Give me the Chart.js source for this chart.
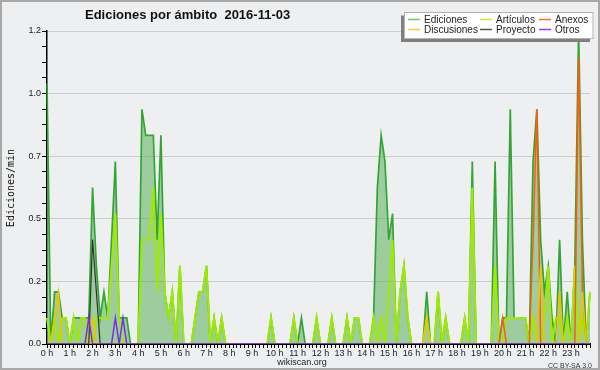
<!DOCTYPE html>
<html lang="es">
<head>
<meta charset="utf-8">
<title>Ediciones por ámbito 2016-11-03</title>
<script src="https://cdn.jsdelivr.net/npm/chart.js@4"></script>
<style>
  html, body { margin: 0; padding: 0; background: #eeeff1; }
  #grafico { display: block; }
</style>
</head>
<body>
<canvas id="grafico" width="600" height="370"></canvas>
<script>
// Ediciones por minuto, en franjas de 10 minutos (6 por hora)
const horas = ['0 h','1 h','2 h','3 h','4 h','5 h','6 h','7 h','8 h','9 h','10 h','11 h',
  '12 h','13 h','14 h','15 h','16 h','17 h','18 h','19 h','20 h','21 h','22 h','23 h'];

const franjas = [];
for (let h = 0; h < 24; h++) {
  for (let m = 0; m < 60; m += 10) franjas.push(h + ':' + String(m).padStart(2, '0'));
}

const valoresY = [0, 0.24, 0.48, 0.72, 0.96, 1.2];
const etiquetasY = ['0.0', '0.2', '0.5', '0.7', '1.0', '1.2'];

const ediciones = [
  1.0, 0.0, 0.2, 0.2, 0.1, 0.1,   // 0 h
  0.0, 0.1, 0.1, 0.1, 0.1, 0.1,   // 1 h
  0.6, 0.3, 0.1, 0.2, 0.1, 0.4,   // 2 h
  0.7, 0.1, 0.1, 0.1, 0.0, 0.0,   // 3 h
  0.0, 0.9, 0.8, 0.8, 0.8, 0.4,   // 4 h
  0.8, 0.2, 0.1, 0.2, 0.0, 0.3,   // 5 h
  0.0, 0.0, 0.0, 0.1, 0.2, 0.2,   // 6 h
  0.3, 0.0, 0.1, 0.0, 0.1, 0.0,   // 7 h
  0.0, 0.0, 0.0, 0.0, 0.0, 0.0,   // 8 h
  0.0, 0.0, 0.0, 0.0, 0.0, 0.1,   // 9 h
  0.0, 0.0, 0.0, 0.0, 0.0, 0.1,   // 10 h
  0.0, 0.1, 0.0, 0.0, 0.0, 0.1,   // 11 h
  0.0, 0.0, 0.0, 0.1, 0.0, 0.0,   // 12 h
  0.0, 0.1, 0.0, 0.1, 0.1, 0.0,   // 13 h
  0.0, 0.0, 0.1, 0.6, 0.8, 0.7,   // 14 h
  0.4, 0.5, 0.0, 0.2, 0.3, 0.1,   // 15 h
  0.0, 0.0, 0.0, 0.0, 0.2, 0.0,   // 16 h
  0.0, 0.2, 0.0, 0.1, 0.0, 0.0,   // 17 h
  0.0, 0.0, 0.1, 0.0, 0.7, 0.0,   // 18 h
  0.0, 0.0, 0.0, 0.0, 0.7, 0.0,   // 19 h
  0.1, 0.1, 0.9, 0.1, 0.1, 0.1,   // 20 h
  0.1, 0.0, 0.7, 0.9, 0.4, 0.2,   // 21 h
  0.3, 0.1, 0.0, 0.4, 0.0, 0.2,   // 22 h
  0.0, 0.3, 1.2, 0.4, 0.0, 0.2    // 23 h
];

const articulos = [
  0.1, 0.0, 0.1, 0.0, 0.1, 0.1,
  0.0, 0.1, 0.0, 0.1, 0.1, 0.0,
  0.0, 0.1, 0.1, 0.1, 0.1, 0.3,
  0.5, 0.1, 0.0, 0.0, 0.0, 0.0,
  0.0, 0.4, 0.4, 0.4, 0.6, 0.2,
  0.5, 0.2, 0.1, 0.2, 0.0, 0.3,
  0.0, 0.0, 0.0, 0.1, 0.2, 0.2,
  0.3, 0.0, 0.1, 0.0, 0.1, 0.0,
  0.0, 0.0, 0.0, 0.0, 0.0, 0.0,
  0.0, 0.0, 0.0, 0.0, 0.0, 0.1,
  0.0, 0.0, 0.0, 0.0, 0.0, 0.1,
  0.0, 0.0, 0.0, 0.0, 0.0, 0.1,
  0.0, 0.0, 0.0, 0.1, 0.0, 0.0,
  0.0, 0.1, 0.0, 0.1, 0.1, 0.0,
  0.0, 0.0, 0.1, 0.0, 0.1, 0.0,
  0.2, 0.4, 0.0, 0.2, 0.3, 0.1,
  0.0, 0.0, 0.0, 0.0, 0.1, 0.0,
  0.0, 0.2, 0.0, 0.1, 0.0, 0.0,
  0.0, 0.0, 0.1, 0.0, 0.6, 0.0,
  0.0, 0.0, 0.0, 0.0, 0.3, 0.0,
  0.0, 0.1, 0.1, 0.1, 0.1, 0.1,
  0.1, 0.0, 0.1, 0.0, 0.0, 0.1,
  0.3, 0.0, 0.1, 0.1, 0.0, 0.1,
  0.0, 0.3, 0.0, 0.1, 0.0, 0.2
];

const anexos = [
  0, 0, 0, 0, 0, 0,   0, 0, 0, 0, 0, 0,   0, 0, 0, 0, 0, 0,   0, 0, 0, 0, 0, 0,
  0, 0, 0, 0, 0, 0,   0, 0, 0, 0, 0, 0,   0, 0, 0, 0, 0, 0,   0, 0, 0, 0, 0, 0,
  0, 0, 0, 0, 0, 0,   0, 0, 0, 0, 0, 0,   0, 0, 0, 0, 0, 0,   0, 0, 0, 0, 0, 0,
  0, 0, 0, 0, 0, 0,   0, 0, 0, 0, 0, 0,   0, 0, 0, 0, 0, 0,   0, 0, 0, 0, 0, 0,
  0, 0, 0, 0, 0, 0,   0, 0, 0, 0, 0, 0,   0, 0, 0, 0, 0, 0,   0, 0, 0, 0, 0, 0,
  0.1, 0, 0, 0, 0, 0, 0, 0, 0.4, 0.9, 0, 0, 0, 0, 0, 0, 0, 0,   0, 0, 1.1, 0.2, 0, 0
];

const discusiones = [
  0, 0, 0.1, 0.2, 0, 0, 0, 0, 0, 0, 0, 0,   0.1, 0, 0, 0, 0, 0,   0, 0, 0, 0, 0, 0,
  0, 0, 0, 0, 0, 0,   0, 0, 0, 0, 0, 0,   0, 0, 0, 0, 0, 0,   0, 0, 0, 0, 0, 0,
  0, 0, 0, 0, 0, 0,   0, 0, 0, 0, 0, 0,   0, 0, 0, 0, 0, 0,   0, 0, 0, 0, 0, 0,
  0, 0, 0, 0, 0, 0,   0, 0, 0, 0, 0, 0,   0, 0, 0, 0, 0, 0,   0, 0, 0, 0, 0, 0,
  0, 0, 0, 0, 0.1, 0, 0, 0, 0, 0, 0, 0,   0, 0, 0, 0, 0, 0,   0, 0, 0, 0, 0, 0,
  0, 0, 0, 0, 0, 0,   0, 0, 0, 0, 0.3, 0, 0, 0, 0, 0.2, 0, 0, 0, 0, 0, 0.2, 0, 0
];

const proyecto = [
  0, 0, 0, 0, 0, 0,   0, 0, 0, 0, 0, 0,   0.4, 0.2, 0, 0, 0, 0,   0, 0, 0, 0, 0, 0,
  0, 0, 0, 0, 0, 0,   0, 0, 0, 0, 0, 0,   0, 0, 0, 0, 0, 0,   0, 0, 0, 0, 0, 0,
  0, 0, 0, 0, 0, 0,   0, 0, 0, 0, 0, 0,   0, 0, 0, 0, 0, 0,   0, 0, 0, 0, 0, 0,
  0, 0, 0, 0, 0, 0,   0, 0, 0, 0, 0, 0,   0, 0, 0, 0, 0, 0,   0, 0, 0, 0, 0, 0,
  0, 0, 0, 0, 0, 0,   0, 0, 0, 0, 0, 0,   0, 0, 0, 0, 0, 0,   0, 0, 0, 0, 0, 0,
  0, 0, 0, 0, 0, 0,   0, 0, 0, 0, 0, 0,   0, 0, 0, 0, 0, 0,   0, 0, 0, 0, 0, 0
];

const otros = [
  0, 0, 0, 0, 0, 0,   0, 0, 0, 0, 0, 0.1, 0, 0, 0, 0, 0, 0,   0.1, 0, 0.1, 0, 0, 0,
  0, 0, 0, 0, 0, 0,   0, 0, 0, 0, 0, 0,   0, 0, 0, 0, 0, 0,   0, 0, 0, 0, 0, 0,
  0, 0, 0, 0, 0, 0,   0, 0, 0, 0, 0, 0,   0, 0, 0, 0, 0, 0,   0, 0, 0, 0, 0, 0,
  0, 0, 0, 0, 0, 0,   0, 0, 0, 0, 0, 0,   0, 0, 0, 0, 0, 0,   0, 0, 0, 0, 0, 0,
  0, 0, 0, 0, 0, 0,   0, 0, 0, 0, 0, 0,   0, 0, 0, 0, 0, 0,   0, 0, 0, 0, 0, 0,
  0, 0, 0, 0, 0, 0,   0, 0, 0, 0, 0, 0,   0, 0, 0, 0, 0, 0,   0, 0, 0, 0, 0, 0
];

const nombres = ['Ediciones', 'Artículos', 'Anexos', 'Discusiones', 'Proyecto', 'Otros'];
const colores = ['#34a534', '#a0ea00', '#ff5a10', '#f2c200', '#333333', '#7a2ee6'];
const coloresLeyenda = ['#6cc86c', '#c4ec3c', '#ff6a30', '#ffc830', '#505050', '#9440f0'];

// fondo, titulo, leyenda y pie dibujados a mano
const decoracion = {
  id: 'decoracion',
  beforeDraw(chart) {
    const ctx = chart.ctx;
    ctx.save();
    ctx.fillStyle = '#eeeff1';
    ctx.fillRect(0, 0, chart.width, chart.height);
    ctx.restore();
  },
  afterDraw(chart) {
    const ctx = chart.ctx;
    ctx.save();

    // titulo
    ctx.fillStyle = '#111';
    ctx.font = 'bold 13px "Liberation Sans"';
    ctx.textAlign = 'left';
    ctx.textBaseline = 'alphabetic';
    ctx.fillText('Ediciones por ámbito  2016-11-03', 85, 18.5);

    // titulo eje y
    ctx.save();
    ctx.translate(11, 188);
    ctx.rotate(-Math.PI / 2);
    ctx.font = '10px "DejaVu Sans Mono"';
    ctx.textAlign = 'center';
    ctx.textBaseline = 'middle';
    ctx.fillStyle = '#111';
    ctx.fillText('Ediciones/min', 0, 0);
    ctx.restore();

    // leyenda
    ctx.fillStyle = '#808080';
    ctx.fillRect(401, 15.5, 189, 26.5);
    ctx.fillStyle = '#ffffff';
    ctx.fillRect(404.5, 12, 189, 26.5);
    ctx.strokeStyle = '#b4b4b4';
    ctx.lineWidth = 1;
    ctx.strokeRect(404.5, 12.5, 188.5, 26);

    const colX = [408, 480, 539];
    const filaY = [19.5, 29.5];
    ctx.font = '10px "Liberation Sans"';
    ctx.textBaseline = 'middle';
    ctx.textAlign = 'left';
    nombres.forEach((nombre, i) => {
      const x = colX[i % 3];
      const y = filaY[Math.floor(i / 3)];
      ctx.strokeStyle = coloresLeyenda[i];
      ctx.lineWidth = 1.5;
      ctx.beginPath();
      ctx.moveTo(x, y);
      ctx.lineTo(x + 12, y);
      ctx.stroke();
      ctx.fillStyle = '#222';
      ctx.fillText(nombre, x + 16, y + 0.5);
    });

    // pie
    ctx.fillStyle = '#222';
    ctx.font = '9px "Liberation Sans"';
    ctx.textAlign = 'center';
    ctx.fillText('wikiscan.org', 302, 363);
    ctx.font = '7px "Liberation Sans"';
    ctx.textAlign = 'right';
    ctx.fillStyle = '#333';
    ctx.fillText('CC BY-SA 3.0', 592, 366);

    // marco
    ctx.strokeStyle = '#a8a8a8';
    ctx.lineWidth = 2;
    ctx.strokeRect(1, 1, chart.width - 2, chart.height - 2);
    ctx.restore();
  }
};

const series = [ediciones, articulos, anexos, discusiones, proyecto, otros];
const anchos = [1.7, 2, 1.5, 1.5, 1.2, 1.5];

const datasets = series.map((datos, i) => ({
  label: nombres[i],
  data: datos,
  borderColor: colores[i],
  borderWidth: anchos[i],
  backgroundColor: i === 0 ? 'rgba(70,165,70,0.48)' : colores[i],
  fill: i === 0 ? 'origin' : false,
  pointRadius: 0,
  tension: 0,
  order: i === 0 ? 10 : 6 - i
}));

new Chart(document.getElementById('grafico'), {
  type: 'line',
  data: { labels: franjas, datasets: datasets },
  options: {
    responsive: false,
    animation: false,
    devicePixelRatio: 1,
    layout: { padding: { top: 31, right: 10, bottom: 0, left: 0 } },
    plugins: {
      legend: { display: false },
      title: { display: false },
      tooltip: { enabled: false }
    },
    scales: {
      x: {
        type: 'category',
        offset: false,
        afterFit: (s) => { s.height = 26; },
        border: { color: '#000', width: 2 },
        grid: { drawOnChartArea: false, drawTicks: true, tickLength: 4, color: '#000' },
        ticks: {
          autoSkip: false,
          maxRotation: 0,
          minRotation: 0,
          padding: 0,
          color: '#222',
          font: { family: 'Liberation Sans', size: 9 },
          callback: (v, i) => (i % 6 === 0 ? horas[i / 6] : '')
        }
      },
      y: {
        type: 'linear',
        min: 0,
        max: 1.2,
        afterFit: (s) => { s.width = 47; },
        afterBuildTicks: (s) => {
          const ticks = [];
          for (let k = 0; k < valoresY.length; k++) {
            ticks.push({ value: valoresY[k] });
            if (k < valoresY.length - 1) {
              const paso = (valoresY[k + 1] - valoresY[k]) / 4;
              for (let j = 1; j < 4; j++) ticks.push({ value: valoresY[k] + paso * j });
            }
          }
          s.ticks = ticks;
        },
        border: { color: '#000', width: 1.5 },
        grid: {
          color: (c) => (c.index % 4 === 0 && c.index > 0 ? '#cdcdcd' : 'rgba(0,0,0,0)'),
          tickColor: '#000',
          tickLength: 5,
          lineWidth: 1
        },
        ticks: {
          padding: 1,
          color: '#222',
          font: { family: 'Liberation Sans', size: 9 },
          callback: (v, i) => (i % 4 === 0 ? etiquetasY[i / 4] : '')
        }
      }
    }
  },
  plugins: [decoracion]
});
</script>
</body>
</html>
